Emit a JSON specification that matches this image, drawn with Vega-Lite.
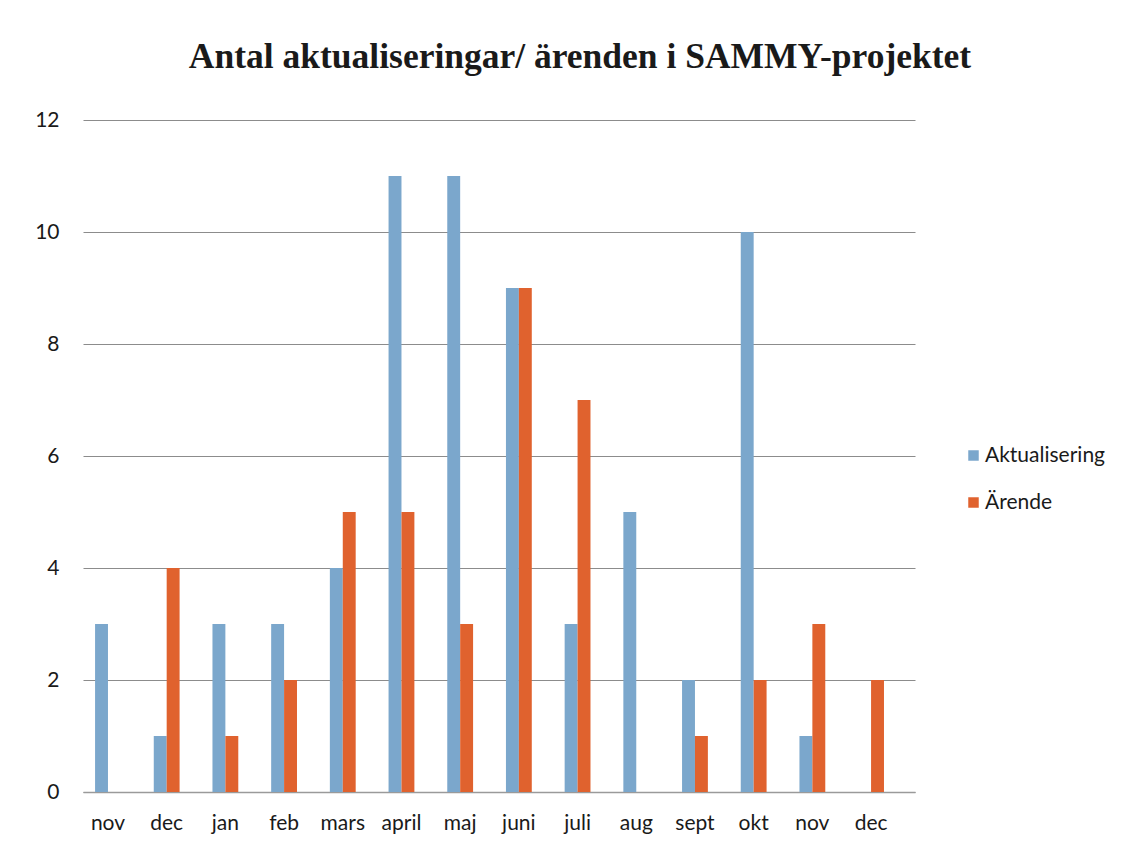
{
  "$schema": "https://vega.github.io/schema/vega-lite/v6.json",
  "width": 832,
  "height": 672,
  "autosize": "none",
  "padding": {"left": 83, "top": 120, "right": 220, "bottom": 72},
  "background": "white",
  "title": {
    "text": "Antal aktualiseringar/ ärenden i SAMMY-projektet",
    "font": "Liberation Serif",
    "fontSize": 35.5,
    "fontWeight": "bold",
    "color": "#1a1a1a",
    "anchor": "middle",
    "dx": 81,
    "offset": 34
  },
  "data": {
    "values": [
      {"key": "01 nov", "serie": "Aktualisering", "antal": 3},
      {"key": "01 nov", "serie": "Ärende", "antal": 0},
      {"key": "02 dec", "serie": "Aktualisering", "antal": 1},
      {"key": "02 dec", "serie": "Ärende", "antal": 4},
      {"key": "03 jan", "serie": "Aktualisering", "antal": 3},
      {"key": "03 jan", "serie": "Ärende", "antal": 1},
      {"key": "04 feb", "serie": "Aktualisering", "antal": 3},
      {"key": "04 feb", "serie": "Ärende", "antal": 2},
      {"key": "05 mars", "serie": "Aktualisering", "antal": 4},
      {"key": "05 mars", "serie": "Ärende", "antal": 5},
      {"key": "06 april", "serie": "Aktualisering", "antal": 11},
      {"key": "06 april", "serie": "Ärende", "antal": 5},
      {"key": "07 maj", "serie": "Aktualisering", "antal": 11},
      {"key": "07 maj", "serie": "Ärende", "antal": 3},
      {"key": "08 juni", "serie": "Aktualisering", "antal": 9},
      {"key": "08 juni", "serie": "Ärende", "antal": 9},
      {"key": "09 juli", "serie": "Aktualisering", "antal": 3},
      {"key": "09 juli", "serie": "Ärende", "antal": 7},
      {"key": "10 aug", "serie": "Aktualisering", "antal": 5},
      {"key": "10 aug", "serie": "Ärende", "antal": 0},
      {"key": "11 sept", "serie": "Aktualisering", "antal": 2},
      {"key": "11 sept", "serie": "Ärende", "antal": 1},
      {"key": "12 okt", "serie": "Aktualisering", "antal": 10},
      {"key": "12 okt", "serie": "Ärende", "antal": 2},
      {"key": "13 nov", "serie": "Aktualisering", "antal": 1},
      {"key": "13 nov", "serie": "Ärende", "antal": 3},
      {"key": "14 dec", "serie": "Aktualisering", "antal": 0},
      {"key": "14 dec", "serie": "Ärende", "antal": 2}
    ]
  },
  "mark": {"type": "bar"},
  "encoding": {
    "x": {
      "field": "key",
      "type": "nominal",
      "sort": "ascending",
      "title": null,
      "scale": {"paddingInner": 0.56, "paddingOuter": 0.367, "align": 0.28},
      "axis": {
        "labelExpr": "slice(datum.label, 3)",
        "labelAngle": 0,
        "labelFont": "Lato",
        "labelFontSize": 21,
        "labelColor": "#1a1a1a",
        "labelPadding": 20,
        "ticks": false,
        "domainColor": "#9a9a9a",
        "domainWidth": 1.5
      }
    },
    "xOffset": {"field": "serie", "type": "nominal", "sort": ["Aktualisering", "Ärende"]},
    "y": {
      "field": "antal",
      "type": "quantitative",
      "title": null,
      "scale": {"domain": [0, 12]},
      "axis": {
        "values": [0, 2, 4, 6, 8, 10, 12],
        "labelFont": "Lato",
        "labelFontSize": 21,
        "labelColor": "#1a1a1a",
        "labelPadding": 24,
        "ticks": false,
        "domain": false,
        "gridColor": "#8c8c8c",
        "gridWidth": 1.2
      }
    },
    "color": {
      "field": "serie",
      "type": "nominal",
      "sort": ["Aktualisering", "Ärende"],
      "scale": {"domain": ["Aktualisering", "Ärende"], "range": ["#7ba7cc", "#e0622e"]},
      "legend": {
        "title": null,
        "orient": "none",
        "legendX": 880,
        "legendY": 325,
        "symbolType": "square",
        "symbolSize": 110,
        "symbolStrokeWidth": 0,
        "labelFont": "Lato",
        "labelFontSize": 21,
        "labelColor": "#1a1a1a",
        "labelOffset": 1,
        "rowPadding": 25
      }
    }
  },
  "config": {
    "view": {"stroke": null}
  }
}
